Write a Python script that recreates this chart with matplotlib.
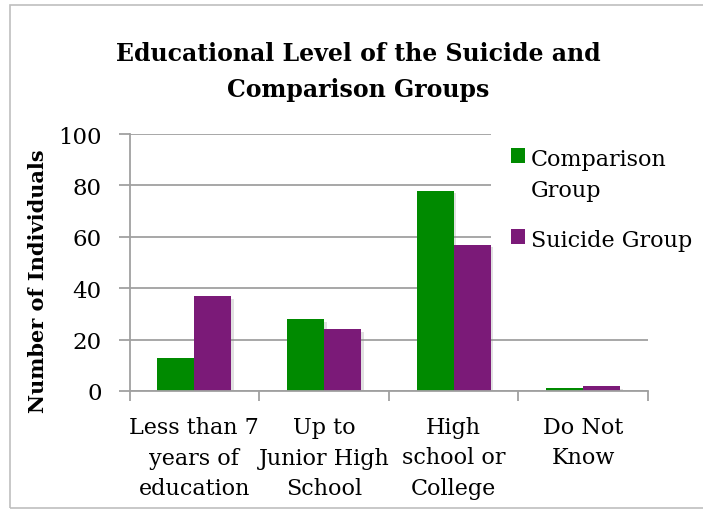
import numpy as np
import matplotlib
matplotlib.use("Agg")
import matplotlib.pyplot as plt
import matplotlib.patheffects as pe
from matplotlib.patches import Rectangle

# --- DATA ---
categories = ["Less than 7\nyears of\neducation", "Up to\nJunior High\nSchool",
              "High\nschool or\nCollege", "Do Not\nKnow"]
series_names = ["Comparison\nGroup", "Suicide Group"]
comparison = [13, 28, 78, 1]
suicide = [37, 24, 57, 2]
yticks = [0, 20, 40, 60, 80, 100]

green = "#008A00"
purple = "#7B1A78"
grid_gray = "#A0A0A0"

plt.rcParams["font.family"] = ["DejaVu Serif"]

W, H = 703, 510
fig = plt.figure(figsize=(W / 100, H / 100), dpi=100)

def px(x, y):
    # pixel coords from the top-left -> figure fraction
    return x / W, 1 - y / H

# plot area: x 129.5..648, y 135..392
ax = fig.add_axes([129.5 / W, 1 - 392 / H, 518.5 / W, 257 / H])

x = np.arange(len(categories))
w = 0.285
shadow = [pe.SimplePatchShadow(offset=(2, -2), shadow_rgbFace="#888888", alpha=0.25), pe.Normal()]
b1 = ax.bar(x - w / 2, comparison, w, color=green, zorder=2)
b2 = ax.bar(x + w / 2, suicide, w, color=purple, zorder=2)
for b in list(b1) + list(b2):
    b.set_path_effects(shadow)

ax.set_xlim(-0.5, len(categories) - 0.5)
ax.set_ylim(0, 100)
ax.set_yticks(yticks)
ax.yaxis.grid(True, color=grid_gray, linewidth=1.3, zorder=0)
ax.set_axisbelow(True)

# category labels at centers, tick marks at boundaries
ax.set_xticks(x)
ax.set_xticklabels(categories, fontsize=16, linespacing=1.5)
ax.set_xticks(np.arange(-0.5, len(categories)), minor=True)
ax.tick_params(axis="x", which="major", length=0, pad=18)
ax.tick_params(axis="x", which="minor", length=7, width=1.3, color=grid_gray, direction="out")
ax.tick_params(axis="y", length=8, width=1.3, color=grid_gray, direction="out",
               labelsize=16.5, pad=12)

for s in ["top", "right"]:
    ax.spines[s].set_visible(False)
for s in ["left", "bottom"]:
    ax.spines[s].set_color(grid_gray)
    ax.spines[s].set_linewidth(1.3)

# white legend box hiding the gridlines behind it
ax.add_patch(Rectangle(((491 - 129.5) / 518.5, (392 - 293) / 257), 0.5, 0.7,
                       transform=ax.transAxes, facecolor="white", edgecolor="none",
                       zorder=1, clip_on=False))

# legend
for (sy, ty), name, col in zip([(149, 149), (230, 230)], series_names, [green, purple]):
    fx, fy = px(511, sy + 15)
    fig.patches.append(Rectangle((fx, fy), 14 / W, 15 / H, transform=fig.transFigure,
                                 facecolor=col, edgecolor="none"))
    fig.text(*px(531, ty), name, fontsize=16, va="top", ha="left", linespacing=1.5)

# title and y label
fig.text(*px(358, 72), "Educational Level of the Suicide and\nComparison Groups",
         fontsize=17, fontweight="bold", ha="center", va="center", linespacing=1.6)
fig.text(*px(38, 281), "Number of Individuals", fontsize=15, fontweight="bold",
         rotation=90, ha="center", va="center")

# chart border
fig.patches.append(Rectangle(px(10, 509), 700 / W, 503 / H, transform=fig.transFigure,
                             facecolor="none", edgecolor="#BFBFBF", linewidth=1.2))

fig.savefig("out.png", dpi=100)
